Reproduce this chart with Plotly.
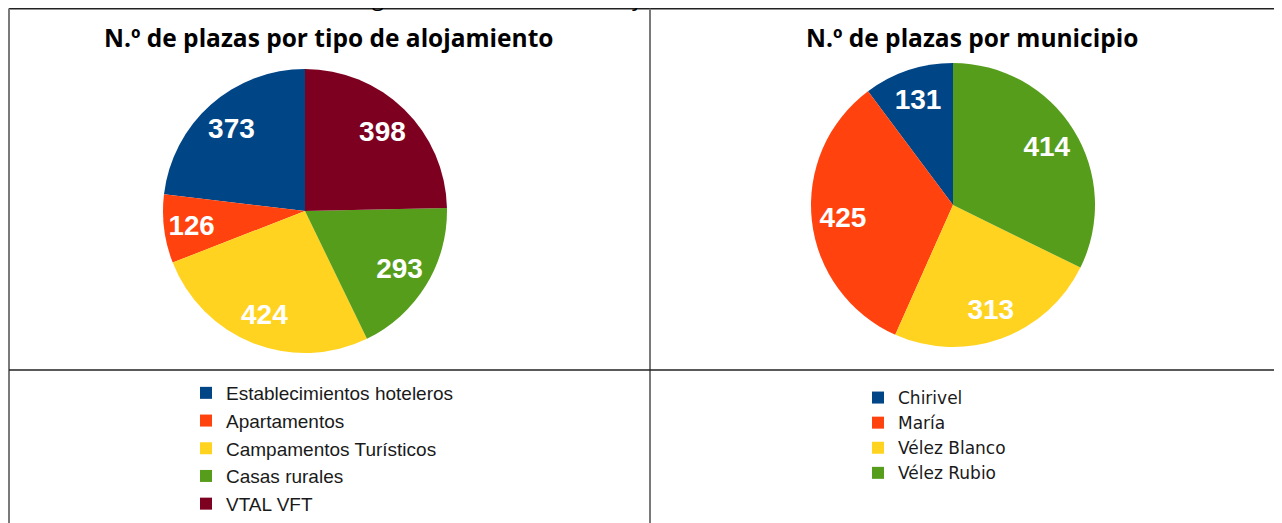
import plotly.graph_objects as go

# The page body has an 8px default margin; the figure is sized to fill the rest
OFF = 8
W, H = 1282 - OFF, 523 - OFF

# Data
tipos = ["Establecimientos hoteleros", "Apartamentos", "Campamentos Turísticos", "Casas rurales", "VTAL VFT"]
plazas_tipo = [373, 126, 424, 293, 398]
municipios = ["Chirivel", "María", "Vélez Blanco", "Vélez Rubio"]
plazas_mun = [131, 425, 313, 414]

title_tipo = "N.º de plazas por tipo de alojamiento"
title_mun = "N.º de plazas por municipio"
caption = "Figura 14. Inventario de alojamiento turístico comarcal"

col_tipo = ["#004586", "#ff420e", "#ffd320", "#579d1c", "#7e0021"]
col_mun = ["#004586", "#ff420e", "#ffd320", "#579d1c"]


def px(x):
    """page pixel x -> paper coordinate"""
    return (x - OFF) / W


def py(y):
    """page pixel y -> paper coordinate"""
    return 1 - (y - OFF) / H


def first_slice_rot(vals):
    # Plotly's counterclockwise pies end the first slice at 12 o'clock;
    # rotate back so the first slice starts at 12 o'clock instead.
    return -360.0 * vals[0] / sum(vals)


label_font = dict(family="Liberation Sans", size=28, color="white", weight="bold")


def add_pie(labels, values, colors, dom, legend):
    common = dict(labels=labels, values=values, sort=False, direction="counterclockwise",
                  rotation=first_slice_rot(values), domain=dom)
    # coloured slices
    fig.add_trace(go.Pie(
        **common, marker=dict(colors=colors, line=dict(width=0)),
        textinfo="none", legend=legend, hoverinfo="label+value",
    ))
    # value labels, placed in an outer ring like the original chart
    fig.add_trace(go.Pie(
        **common, hole=0.56, showlegend=False,
        marker=dict(colors=["rgba(0,0,0,0)"] * len(values), line=dict(width=0)),
        textinfo="value", textposition="inside", insidetextorientation="horizontal",
        textfont=label_font, hoverinfo="skip",
    ))


fig = go.Figure()
add_pie(tipos, plazas_tipo, col_tipo, dict(x=[px(163), px(447)], y=[py(353), py(69)]), "legend")
add_pie(municipios, plazas_mun, col_mun, dict(x=[px(811), px(1095)], y=[py(347), py(63)]), "legend2")

line_dark = dict(color="#222222", width=1.5)
line_gray = dict(color="#7a7a7a", width=2)
shapes = [
    dict(type="line", xref="paper", yref="paper", x0=px(8.75), x1=1.01, y0=py(8.75), y1=py(8.75), line=line_dark),
    dict(type="line", xref="paper", yref="paper", x0=px(9), x1=px(9), y0=py(8.75), y1=-0.02, line=line_gray),
    dict(type="line", xref="paper", yref="paper", x0=px(650), x1=px(650), y0=py(8.75), y1=-0.02, line=line_gray),
    dict(type="line", xref="paper", yref="paper", x0=px(9), x1=1.01, y0=py(370), y1=py(370), line=line_dark),
]

title_font = dict(family="Open Sans", size=24.5, color="#000000", weight="bold")
annotations = [
    dict(text=title_tipo, x=px(328), y=py(38), xref="paper", yref="paper", showarrow=False,
         xanchor="center", yanchor="middle", font=title_font),
    dict(text=title_mun, x=px(972), y=py(38), xref="paper", yref="paper", showarrow=False,
         xanchor="center", yanchor="middle", font=title_font),
    dict(text=caption, x=px(634), y=py(-3), xref="paper", yref="paper", showarrow=False,
         xanchor="center", yanchor="middle",
         font=dict(family="Open Sans", size=22, color="#000000")),
]

fig.update_layout(
    width=W, height=H, margin=dict(l=0, r=0, t=0, b=0),
    paper_bgcolor="white", plot_bgcolor="white",
    shapes=shapes, annotations=annotations,
    legend=dict(x=px(186), y=py(374), xanchor="left", yanchor="top",
                font=dict(family="Liberation Sans", size=19, color="#1a1a1a"),
                bgcolor="rgba(0,0,0,0)"),
    legend2=dict(x=px(858), y=py(380), xanchor="left", yanchor="top",
                 font=dict(family="DejaVu Sans", size=17, color="#1a1a1a"),
                 bgcolor="rgba(0,0,0,0)"),
)

fig.write_html("out.html")
